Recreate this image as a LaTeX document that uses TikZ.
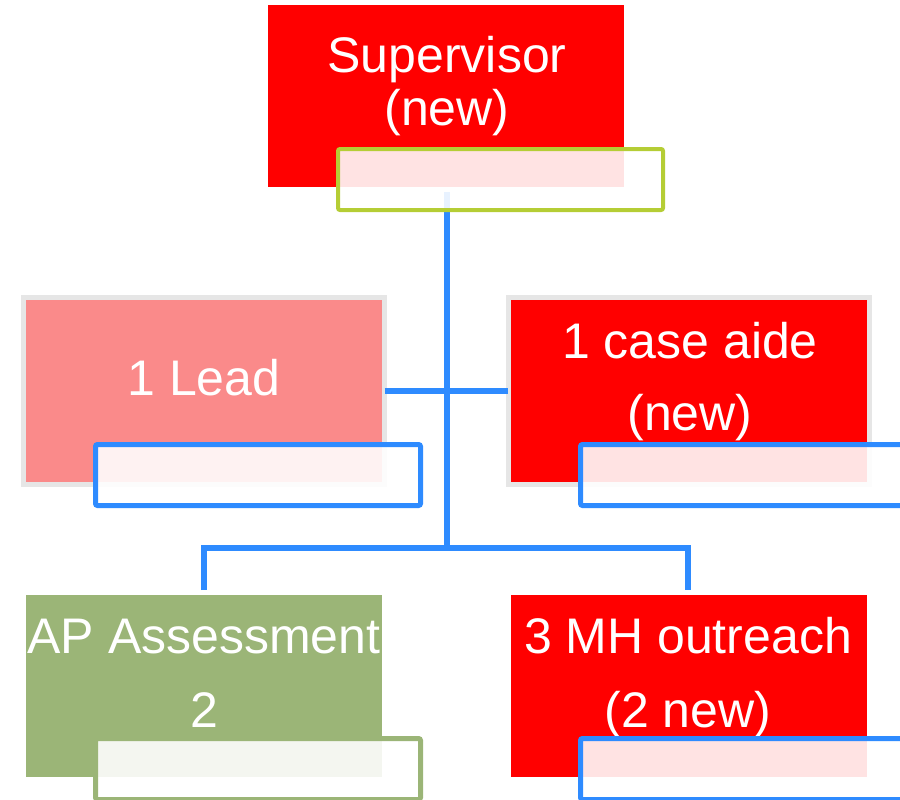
\documentclass[tikz,border=0pt]{standalone}
\usepackage{fontspec}
\setmainfont{Liberation Sans}
\definecolor{boxred}{RGB}{255,0,0}
\definecolor{leadpink}{RGB}{250,138,138}
\definecolor{apgreen}{RGB}{155,181,119}
\definecolor{edgegray}{RGB}{230,230,230}
\definecolor{linkblue}{RGB}{46,139,255}
\definecolor{limegreen}{RGB}{181,205,53}
\begin{document}
\begin{tikzpicture}[x=1pt,y=-1pt,
  unit/.style={rectangle, inner sep=0pt, outer sep=0pt, minimum width=356pt, minimum height=182pt},
  framed/.style={rectangle, inner sep=0pt, outer sep=0pt, line width=5pt, draw=edgegray, minimum width=361pt, minimum height=187pt},
  tag/.style={rectangle, inner sep=0pt, outer sep=0pt, rounded corners=2pt, line width=5pt,
    fill=white, fill opacity=0.89, draw opacity=1, minimum width=325pt, minimum height=61pt},
  conn/.style={draw=linkblue, line width=5.5pt},
  lbl/.style={text=white, inner sep=0pt, anchor=base, font=\fontsize{50}{52}\selectfont}]
\useasboundingbox (0,0) rectangle (900,800);

% connector skeleton
\coordinate (stem) at (447,192);
\coordinate (hub) at (447,548);
\coordinate (apTop) at (204,590);
\coordinate (mhTop) at (688,590);
\draw[conn] (stem) -- (hub);
\draw[conn] (apTop) |- (hub) -| (mhTop);

% boxes
\node[unit, fill=boxred] (sup) at (446,96) {};
\node[framed, fill=leadpink] (lead) at (204,391) {};
\node[framed, fill=boxred] (case) at (688.5,391) {};
\node[unit, fill=apgreen] (ap) at (204,686) {};
\node[unit, fill=boxred] (mh) at (689,686) {};

\draw[conn] (lead.east) -- (case.west);

% labels
\node[lbl] (supA) at (447,73) {Supervisor};
\node[lbl] (supB) at (447,125) {(new)};
\node[lbl] (leadA) at (204,395) {1 Lead};
\node[lbl] (caseA) at (690,358) {1 case aide};
\node[lbl] (caseB) at (690,430) {(new)};
\node[lbl] (apA) at (204,653) {AP Assessment};
\node[lbl] (apB) at (204,727) {2};
\node[lbl] (mhA) at (688,653) {3 MH outreach};
\node[lbl] (mhB) at (688,727) {(2 new)};

% translucent tag boxes
\node[tag, draw=limegreen, line width=4pt] (supTag) at (500.5,179.5) {};
\node[tag, draw=linkblue] (leadTag) at (258,475) {};
\node[tag, draw=linkblue] (caseTag) at (743,475) {};
\node[tag, draw=apgreen] (apTag) at (258,769) {};
\node[tag, draw=linkblue] (mhTag) at (743,769) {};
\end{tikzpicture}
\end{document}
